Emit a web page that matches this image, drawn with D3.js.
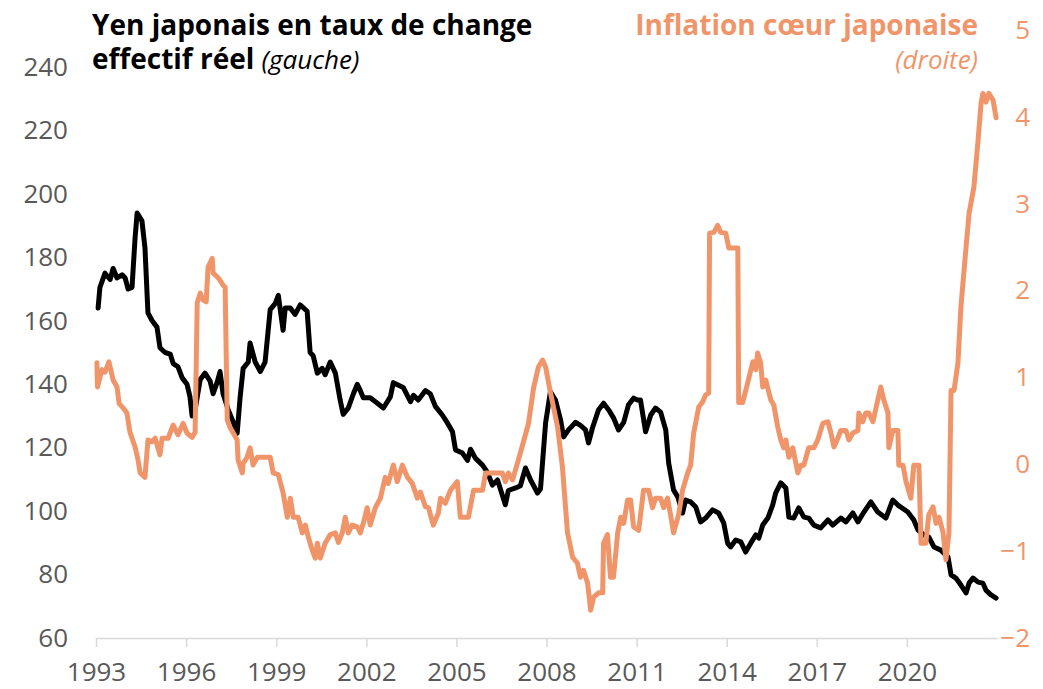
<!DOCTYPE html>
<html>
<head>
  <meta charset="utf-8">
  <title>Yen et inflation</title>
  <script src="https://d3js.org/d3.v7.min.js"></script>
  <style>
    body {
      margin: 0;
      padding: 0;
      background-color: white;
    }
    svg text {
      font-family: "Open Sans", sans-serif;
    }
    .tick-left { fill: #595959; font-size: 26px; }
    .tick-right { fill: #f0956a; font-size: 26px; }
    .tick-x { fill: #595959; font-size: 26px; }
  </style>
</head>
<body>
  <div id="chart"></div>
  <script>
    // Yen real effective exchange rate (left axis) : [decimal year, value]
    var yenYears = [1993.07,1993.13,1993.30,1993.47,1993.57,1993.70,1993.87,1993.97,1994.07,1994.20,1994.30,1994.37,1994.53,1994.63,1994.73,1994.87,1995.03,1995.13,1995.30,1995.47,1995.57,1995.73,1995.87,1996.03,1996.13,1996.20,1996.30,1996.47,1996.63,1996.80,1996.90,1997.03,1997.13,1997.23,1997.40,1997.57,1997.70,1997.80,1997.90,1998.07,1998.13,1998.30,1998.47,1998.63,1998.80,1998.97,1999.07,1999.23,1999.30,1999.47,1999.63,1999.80,2000.03,2000.13,2000.23,2000.37,2000.53,2000.63,2000.80,2000.97,2001.13,2001.23,2001.40,2001.57,2001.70,2001.80,2001.90,2002.13,2002.37,2002.57,2002.80,2002.90,2003.23,2003.47,2003.57,2003.73,2003.97,2004.13,2004.30,2004.53,2004.70,2004.87,2004.97,2005.20,2005.37,2005.47,2005.63,2005.87,2006.03,2006.20,2006.37,2006.63,2006.73,2006.97,2007.13,2007.30,2007.47,2007.70,2007.80,2007.97,2008.13,2008.30,2008.47,2008.57,2008.73,2008.97,2009.13,2009.30,2009.40,2009.53,2009.73,2009.90,2010.07,2010.23,2010.40,2010.57,2010.73,2010.90,2011.03,2011.13,2011.30,2011.47,2011.63,2011.80,2011.97,2012.07,2012.23,2012.37,2012.53,2012.63,2012.80,2012.97,2013.13,2013.30,2013.53,2013.73,2013.90,2014.03,2014.13,2014.30,2014.47,2014.63,2014.80,2014.97,2015.07,2015.20,2015.37,2015.53,2015.63,2015.80,2015.97,2016.07,2016.23,2016.40,2016.57,2016.73,2016.90,2017.13,2017.37,2017.53,2017.80,2017.97,2018.20,2018.37,2018.57,2018.80,2019.03,2019.30,2019.53,2019.70,2020.03,2020.23,2020.37,2020.57,2020.73,2020.90,2021.13,2021.37,2021.47,2021.63,2021.80,2021.97,2022.07,2022.20,2022.37,2022.53,2022.63,2022.80,2022.97];
    var yenValues = [164,170.5,175,173,176.5,173.5,174.5,173.5,170,170.5,186,194,191.5,183,162.5,160,158,151.5,150,149.5,146.5,145.5,142,140,136,130,132,141.5,143.5,141,137,140.5,144,137,132,128,124.5,136,145,147,153,147,144,147,163.5,165.5,168,157,164,164,162,165,163,150,149,143.5,145,143,147,143.5,135,130.5,132.5,137,140,138,135.7,135.7,134,132.5,136,140.5,139,134.5,136.5,135,138,137,133,130.3,127.8,125,119.3,118.3,116,119.5,116.7,114.5,112.3,108.2,109.8,102,106.5,107.3,108,113.6,109.8,105.7,107,127.8,137.6,135,128.7,123.4,125.6,128,127,125.6,121.5,126.2,131.9,134,131.9,129.4,125.6,128,133.5,135.6,135,135,125,130.3,132.5,131.2,125.6,115,106.7,104.5,99.4,103.5,102.9,101.3,96.6,97.8,100.4,99.4,96.3,89.9,88.7,90.9,90.3,87.1,89.9,92.5,91.5,95.6,97.8,101.9,105.7,108.9,107.3,98.1,97.8,101,98.1,97.8,95.6,94.7,97.2,95.6,97.8,96.6,99.4,96.6,99.7,102.9,99.7,97.8,103.5,101.9,99.7,97.2,94,92.5,91.8,88.7,87.7,85.5,79.9,78.9,76.7,74.2,77.3,78.9,77.6,77.3,75.1,73.6,72.6];

    // Japanese core inflation (right axis) : [decimal year, value]
    var inflYears = [1993.03,1993.05,1993.20,1993.30,1993.43,1993.57,1993.70,1993.77,1993.90,1994.03,1994.13,1994.30,1994.40,1994.47,1994.63,1994.73,1994.87,1994.97,1995.13,1995.20,1995.40,1995.57,1995.73,1995.90,1996.03,1996.20,1996.30,1996.37,1996.47,1996.57,1996.67,1996.73,1996.87,1996.90,1997.03,1997.13,1997.23,1997.30,1997.37,1997.47,1997.57,1997.70,1997.73,1997.87,1997.90,1998.03,1998.13,1998.23,1998.37,1998.80,1998.90,1999.07,1999.23,1999.37,1999.47,1999.57,1999.73,1999.87,1999.97,2000.07,2000.20,2000.30,2000.37,2000.47,2000.63,2000.80,2000.97,2001.07,2001.20,2001.30,2001.40,2001.53,2001.70,2001.80,2001.90,2002.03,2002.13,2002.30,2002.47,2002.63,2002.73,2002.90,2003.03,2003.20,2003.37,2003.53,2003.70,2003.80,2003.97,2004.07,2004.23,2004.40,2004.47,2004.63,2004.80,2005.03,2005.13,2005.40,2005.57,2005.87,2005.97,2006.53,2006.63,2006.73,2006.87,2007.13,2007.40,2007.57,2007.73,2007.87,2007.97,2008.13,2008.37,2008.53,2008.70,2008.87,2009.03,2009.13,2009.23,2009.37,2009.47,2009.57,2009.73,2009.87,2009.90,2010.03,2010.13,2010.23,2010.37,2010.47,2010.57,2010.70,2010.80,2010.90,2011.07,2011.23,2011.40,2011.53,2011.63,2011.80,2011.90,2012.03,2012.13,2012.23,2012.40,2012.53,2012.70,2012.80,2012.90,2013.07,2013.20,2013.30,2013.40,2013.43,2013.57,2013.70,2013.80,2013.97,2014.07,2014.37,2014.40,2014.53,2014.70,2014.87,2014.97,2015.03,2015.13,2015.20,2015.30,2015.47,2015.57,2015.70,2015.80,2015.90,2015.97,2016.07,2016.20,2016.37,2016.47,2016.57,2016.73,2016.90,2017.03,2017.20,2017.37,2017.47,2017.57,2017.70,2017.80,2017.97,2018.07,2018.20,2018.37,2018.40,2018.53,2018.63,2018.73,2018.87,2019.03,2019.13,2019.23,2019.37,2019.40,2019.53,2019.70,2019.73,2019.87,2019.97,2020.13,2020.23,2020.40,2020.47,2020.63,2020.73,2020.87,2020.97,2021.07,2021.20,2021.30,2021.40,2021.47,2021.57,2021.70,2021.80,2021.97,2022.07,2022.23,2022.37,2022.47,2022.53,2022.63,2022.73,2022.87,2022.97];
    var inflValues = [1.17,0.89,1.09,1.06,1.18,0.97,0.89,0.70,0.65,0.59,0.37,0.20,0.05,-0.10,-0.15,0.28,0.26,0.30,0.11,0.30,0.30,0.45,0.34,0.47,0.36,0.31,0.37,1.86,1.97,1.89,1.87,2.27,2.37,2.20,2.16,2.12,2.06,2.04,0.51,0.42,0.36,0.28,0.05,-0.10,0.01,0.08,0.19,-0.01,0.08,0.08,-0.10,-0.12,-0.33,-0.61,-0.39,-0.61,-0.61,-0.79,-0.70,-0.84,-0.99,-1.08,-0.91,-1.08,-0.91,-0.81,-0.79,-0.90,-0.79,-0.61,-0.79,-0.70,-0.72,-0.79,-0.68,-0.50,-0.70,-0.50,-0.39,-0.15,-0.22,-0.01,-0.20,-0.01,-0.15,-0.22,-0.39,-0.32,-0.49,-0.50,-0.70,-0.56,-0.39,-0.45,-0.30,-0.20,-0.61,-0.61,-0.30,-0.30,-0.10,-0.10,-0.20,-0.10,-0.18,0.13,0.47,0.88,1.12,1.20,1.12,0.83,0.43,-0.03,-0.79,-1.07,-1.14,-1.30,-1.22,-1.37,-1.68,-1.53,-1.48,-1.48,-0.91,-0.81,-1.30,-1.30,-0.79,-0.61,-0.68,-0.41,-0.41,-0.72,-0.76,-0.30,-0.30,-0.50,-0.39,-0.39,-0.50,-0.39,-0.58,-0.79,-0.58,-0.30,-0.10,-0.01,0.36,0.66,0.72,0.80,0.82,2.66,2.67,2.75,2.67,2.66,2.49,2.49,0.71,0.71,0.94,1.18,1.09,1.28,1.17,0.89,0.97,0.74,0.68,0.43,0.28,0.19,0.28,0.08,0.19,-0.10,-0.01,-0.01,0.19,0.19,0.28,0.47,0.49,0.36,0.20,0.30,0.39,0.39,0.28,0.36,0.39,0.59,0.49,0.59,0.59,0.49,0.74,0.89,0.74,0.59,0.19,0.39,0.39,-0.01,-0.01,-0.20,-0.39,-0.01,-0.01,-0.91,-0.91,-0.58,-0.49,-0.68,-0.61,-0.78,-1.10,-0.79,0.85,0.85,1.17,1.82,2.50,2.89,3.19,3.73,4.16,4.27,4.17,4.27,4.19,3.99];

    var xTicks = [1993,1996,1999,2002,2005,2008,2011,2014,2017,2020];
    var leftTicks = [60,80,100,120,140,160,180,200,220,240];
    var rightTicks = [-2,-1,0,1,2,3,4,5];

    var width = 1043, height = 689;
    var orange = "#f0956a";

    var svg = d3.select("#chart")
      .append("svg")
        .attr("width", width)
        .attr("height", height);

    var x = d3.scaleLinear().domain([1993, 2023]).range([96, 997]);
    var yL = d3.scaleLinear().domain([60, 240]).range([638, 67]);
    var yR = d3.scaleLinear().domain([-2, 5]).range([638, 30]);

    // x axis
    var xAxis = svg.append("g")
      .attr("transform", "translate(0,638)")
      .call(d3.axisBottom(x).tickValues(xTicks).tickFormat(d3.format("d")).tickSize(9).tickSizeOuter(0).tickPadding(16));
    xAxis.select(".domain").attr("stroke", "#d9d9d9").attr("stroke-width", 1.5);
    xAxis.selectAll(".tick line").attr("stroke", "#d9d9d9").attr("stroke-width", 1.5);
    xAxis.selectAll(".tick text").attr("class", "tick-x").attr("font-size", null).attr("font-family", null);

    // left axis labels
    var lAxis = svg.append("g")
      .attr("transform", "translate(68,0)")
      .call(d3.axisLeft(yL).tickValues(leftTicks).tickSize(0).tickPadding(0));
    lAxis.select(".domain").remove();
    lAxis.selectAll(".tick text").attr("class", "tick-left").attr("font-size", null).attr("font-family", null);

    // right axis labels
    var rAxis = svg.append("g")
      .attr("transform", "translate(1030,0)")
      .call(d3.axisLeft(yR).tickValues(rightTicks).tickFormat(d3.format("d")).tickSize(0).tickPadding(0));
    rAxis.select(".domain").remove();
    rAxis.selectAll(".tick text").attr("class", "tick-right").attr("font-size", null).attr("font-family", null);

    // lines
    var yenData = yenYears.map(function(d, i) { return [d, yenValues[i]]; });
    var inflData = inflYears.map(function(d, i) { return [d, inflValues[i]]; });

    var lineL = d3.line().x(function(d) { return x(d[0]); }).y(function(d) { return yL(d[1]); });
    var lineR = d3.line().x(function(d) { return x(d[0]); }).y(function(d) { return yR(d[1]); });

    svg.append("path")
      .datum(yenData)
      .attr("fill", "none")
      .attr("stroke", "#000")
      .attr("stroke-width", 5)
      .attr("stroke-linejoin", "round")
      .attr("stroke-linecap", "round")
      .attr("d", lineL);

    svg.append("path")
      .datum(inflData)
      .attr("fill", "none")
      .attr("stroke", orange)
      .attr("stroke-width", 5)
      .attr("stroke-linejoin", "round")
      .attr("stroke-linecap", "round")
      .attr("d", lineR);

    // titles
    svg.append("text").attr("x", 92).attr("y", 35)
      .attr("font-size", 28).attr("font-weight", "bold").attr("fill", "#000")
      .text("Yen japonais en taux de change");
    var t2 = svg.append("text").attr("x", 92).attr("y", 69)
      .attr("font-size", 28).attr("font-weight", "bold").attr("fill", "#000");
    t2.append("tspan").text("effectif réel ");
    t2.append("tspan").attr("font-weight", "normal").attr("font-style", "italic").attr("font-size", 26).text("(gauche)");

    svg.append("text").attr("x", 978).attr("y", 35).attr("text-anchor", "end")
      .attr("font-size", 28).attr("font-weight", "bold").attr("fill", orange)
      .text("Inflation cœur japonaise");
    svg.append("text").attr("x", 978).attr("y", 69).attr("text-anchor", "end")
      .attr("font-size", 26).attr("font-style", "italic").attr("fill", orange)
      .text("(droite)");
  </script>
</body>
</html>
